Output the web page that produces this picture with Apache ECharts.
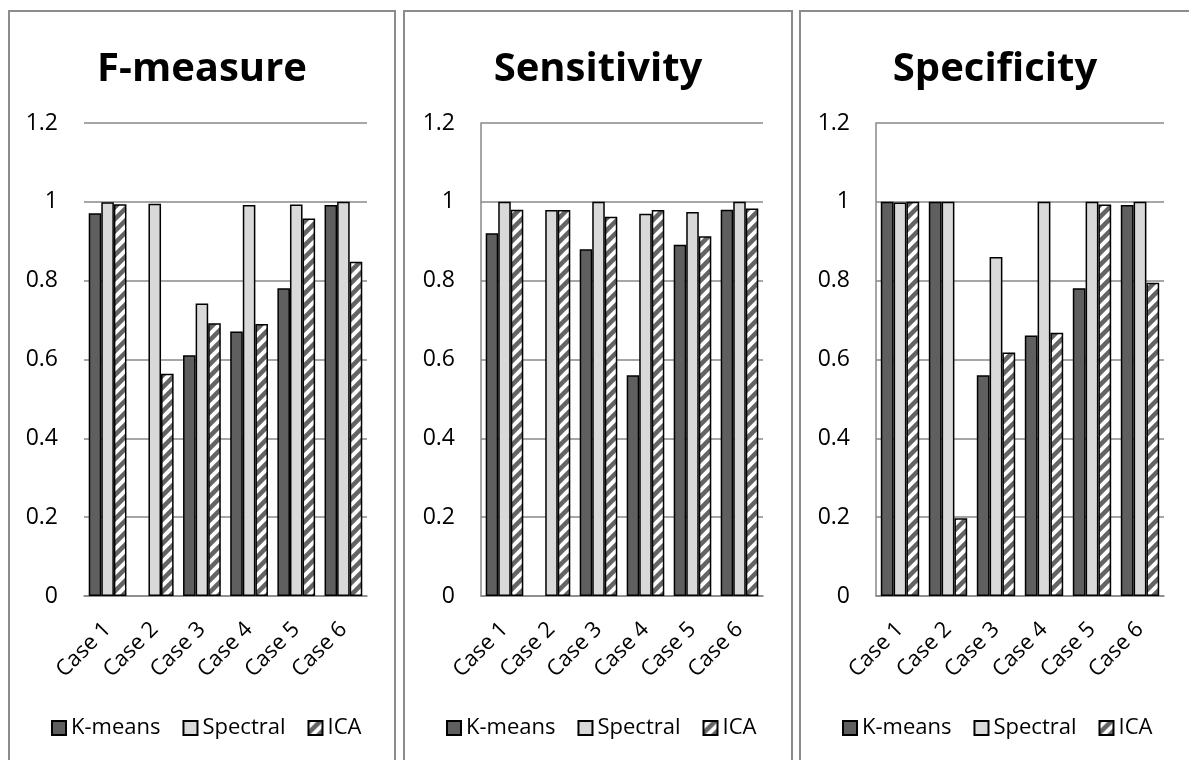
<!DOCTYPE html>
<html>
<head>
<meta charset="utf-8">
<script src="https://cdn.jsdelivr.net/npm/echarts@6/dist/echarts.min.js"></script>
<style>
	body { margin: 0; background: #fff; width: 1189px; height: 760px; overflow: hidden; position: relative; }
	.panel { position: absolute; top: 10px; height: 760px; border: 2px solid #8c8c8c; box-sizing: border-box; }
</style>
</head>
<body>
<div id="p1" class="panel" style="left:8px;width:388px"></div>
<div id="p2" class="panel" style="left:403px;width:390px"></div>
<div id="p3" class="panel" style="left:799px;width:392px"></div>
<script>
(function () {

	var cases  = ['Case 1', 'Case 2', 'Case 3', 'Case 4', 'Case 5', 'Case 6'];
	var yTicks = [0, 0.2, 0.4, 0.6, 0.8, 1, 1.2];
	var methods = ['K-means', 'Spectral', 'ICA'];

	// F-measure
	var fKmeans   = [0.971, null, 0.611, 0.671, 0.781, 0.992];
	var fSpectral = [0.999, 0.995, 0.742, 0.992, 0.993, 1.0];
	var fIca      = [0.994, 0.564, 0.692, 0.690, 0.958, 0.848];

	// Sensitivity
	var seKmeans   = [0.920, null, 0.880, 0.560, 0.891, 0.980];
	var seSpectral = [1.0, 0.979, 1.0, 0.970, 0.974, 1.0];
	var seIca      = [0.980, 0.979, 0.962, 0.979, 0.913, 0.983];

	// Specificity
	var spKmeans   = [1.0, 1.0, 0.560, 0.661, 0.781, 0.992];
	var spSpectral = [0.998, 1.0, 0.860, 1.0, 1.0, 1.0];
	var spIca      = [1.0, 0.197, 0.618, 0.668, 0.993, 0.795];

	var FONT = '"Open Sans", "DejaVu Sans", sans-serif';
	var GRID_COLOR = '#888888';

	function makeStripe() {
		var n = 12;
		var c = document.createElement('canvas');
		c.width = n; c.height = n;
		var ctx = c.getContext('2d');
		ctx.fillStyle = '#ffffff';
		ctx.fillRect(0, 0, n, n);
		ctx.strokeStyle = '#646464';
		ctx.lineWidth = 4.5;
		ctx.beginPath();
		ctx.moveTo(-n / 2, n / 2);  ctx.lineTo(n / 2, -n / 2);
		ctx.moveTo(0, n);           ctx.lineTo(n, 0);
		ctx.moveTo(n / 2, n * 1.5); ctx.lineTo(n * 1.5, n / 2);
		ctx.stroke();
		return c;
	}
	var stripe = makeStripe();

	function barSeries(name, color, data) {
		return {
			name: name, type: 'bar', barGap: '0%', barCategoryGap: '20%',
			itemStyle: { color: color, borderColor: '#000', borderWidth: 1.5 },
			data: data
		};
	}

	function makeOption(title, k, s, ica, grid, showYLine) {
		return {
			animation: false,
			textStyle: { fontFamily: FONT },
			title: {
				text: title, left: 'center', top: 33,
				textStyle: { fontFamily: FONT, fontSize: 40, fontWeight: 'bold', color: '#000' }
			},
			legend: {
				data: methods, left: 36, top: 700, icon: 'rect',
				itemWidth: 14, itemHeight: 14, itemGap: 22,
				textStyle: { fontFamily: FONT, fontSize: 22, color: '#000' }
			},
			grid: grid,
			xAxis: {
				type: 'category', data: cases,
				axisTick: { show: false },
				axisLine: { lineStyle: { color: GRID_COLOR, width: 1.5 } },
				axisLabel: { rotate: 45, margin: 30, fontSize: 22, color: '#000', fontFamily: FONT, interval: 0 }
			},
			yAxis: {
				type: 'value',
				min: yTicks[0], max: yTicks[yTicks.length - 1], interval: yTicks[1] - yTicks[0],
				axisLine: { show: showYLine, lineStyle: { color: GRID_COLOR, width: 1.5 } },
				axisTick: { show: false },
				splitLine: { lineStyle: { color: GRID_COLOR, width: 1.5 } },
				axisLabel: { fontSize: 23, color: '#000', margin: 26, fontFamily: FONT }
			},
			series: [
				barSeries(methods[0], '#5f5f5f', k),
				barSeries(methods[1], '#d9d9d9', s),
				barSeries(methods[2], { image: stripe, repeat: 'repeat' }, ica)
			]
		};
	}

	var c1 = echarts.init(document.getElementById('p1'));
	var c2 = echarts.init(document.getElementById('p2'));
	var c3 = echarts.init(document.getElementById('p3'));

	c1.setOption(makeOption('F-measure', fKmeans, fSpectral, fIca,
		{ left: 74, right: 27, top: 111, bottom: 172 }, false));
	c2.setOption(makeOption('Sensitivity', seKmeans, seSpectral, seIca,
		{ left: 76, right: 28, top: 111, bottom: 172 }, true));
	c3.setOption(makeOption('Specificity', spKmeans, spSpectral, spIca,
		{ left: 75, right: 25, top: 111, bottom: 172 }, true));

})();
</script>
</body>
</html>
